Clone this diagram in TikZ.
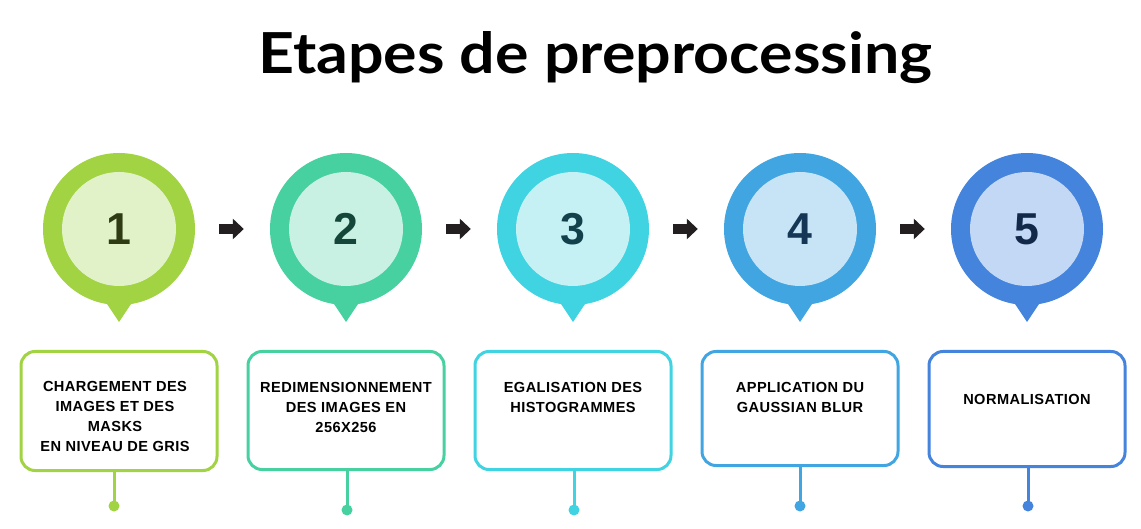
\documentclass[tikz,border=0pt]{standalone}
\usepackage{graphicx}
\usepackage{fontspec}
\setmainfont{Liberation Sans}
\newfontfamily\titlefont{Lato}
\newfontfamily\boxfont[LetterSpace=3]{Liberation Sans}
\usetikzlibrary{arrows.meta}
\definecolor{pin1}{HTML}{A1D343}
\definecolor{pin2}{HTML}{47D1A0}
\definecolor{pin3}{HTML}{40D3E2}
\definecolor{pin4}{HTML}{41A5E1}
\definecolor{pin5}{HTML}{4484DC}
\definecolor{in1}{HTML}{E1F2C9}
\definecolor{in2}{HTML}{C8F1E3}
\definecolor{in3}{HTML}{C5F1F5}
\definecolor{in4}{HTML}{C6E4F6}
\definecolor{in5}{HTML}{C3D8F4}
\definecolor{num1}{HTML}{2F3B13}
\definecolor{num2}{HTML}{14473A}
\definecolor{num3}{HTML}{12414B}
\definecolor{num4}{HTML}{153755}
\definecolor{num5}{HTML}{13294A}
\definecolor{arrowblack}{HTML}{231F20}
\begin{document}
\begin{tikzpicture}[x=1pt,y=-1pt,
  outerpin/.style={circle, minimum size=152pt, inner sep=0pt, draw=none},
  innerpin/.style={circle, minimum size=114pt, inner sep=0pt, draw=none,
    font=\bfseries\fontsize{44.7}{44.7}\selectfont, text height=32pt, text depth=0pt},
  stepbox/.style={rectangle, rounded corners=14pt, line width=3pt, fill=white,
    minimum width=196pt, inner sep=0pt},
  boxtext/.style={anchor=north, inner sep=0pt, align=center,
    font=\boxfont\bfseries\fontsize{14.6}{19.8}\selectfont},
  stem/.style={line width=3pt},
  fatarrow/.style={line width=10pt, draw=arrowblack,
    -{Triangle[length=11pt,width=20pt]}}
]
\useasboundingbox[fill=white] (0,0) rectangle (1141,529);
\node[anchor=base west, inner sep=0pt] (title) at (258,74)
  {\resizebox{674pt}{42pt}{\titlefont\bfseries Etapes de preprocessing}};
\foreach \i/\cx in {1/119,2/346,3/573,4/800,5/1027}{
  \fill[pin\i] (\cx-18,295) -- (\cx+18,295) -- (\cx,322) -- cycle;
  \node[outerpin, fill=pin\i] (p\i) at (\cx,229) {};
  \node[innerpin, fill=in\i, text=num\i] (n\i) at (p\i.center) {\i};
}
\foreach \a/\b in {1/2,2/3,3/4,4/5}{
  \draw[fatarrow] ([xshift=24pt]p\a.east) -- ([xshift=-26pt]p\b.west);
}
\node[stepbox, draw=pin1, minimum height=119pt] (b1) at (119,411) {};
\node[stepbox, draw=pin2, minimum height=118pt] (b2) at (346,410.5) {};
\node[stepbox, draw=pin3, minimum height=118pt] (b3) at (573,410.5) {};
\node[stepbox, draw=pin4, minimum height=114pt] (b4) at (800,408.5) {};
\node[stepbox, draw=pin5, minimum height=115pt] (b5) at (1027,409) {};
\node[boxtext] (t1) at (115,381.5) {CHARGEMENT DES\\IMAGES ET DES\\MASKS\\EN NIVEAU DE GRIS};
\node[boxtext] (t2) at (346,382.5) {REDIMENSIONNEMENT\\DES IMAGES EN\\256X256};
\node[boxtext] (t3) at (573,382.5) {EGALISATION DES\\HISTOGRAMMES};
\node[boxtext] (t4) at (800,382.5) {APPLICATION DU\\GAUSSIAN BLUR};
\node[boxtext] (t5) at (1027,394) {NORMALISATION};
\foreach \i/\dx/\dy in {1/114/506,2/347/510,3/574/510,4/800/506,5/1028/506}{
  \coordinate (d\i) at (\dx,\dy);
  \draw[stem, draw=pin\i] (d\i |- b\i.south) -- (d\i);
  \fill[pin\i] (d\i) circle (5.5pt);
}
\end{tikzpicture}
\end{document}
